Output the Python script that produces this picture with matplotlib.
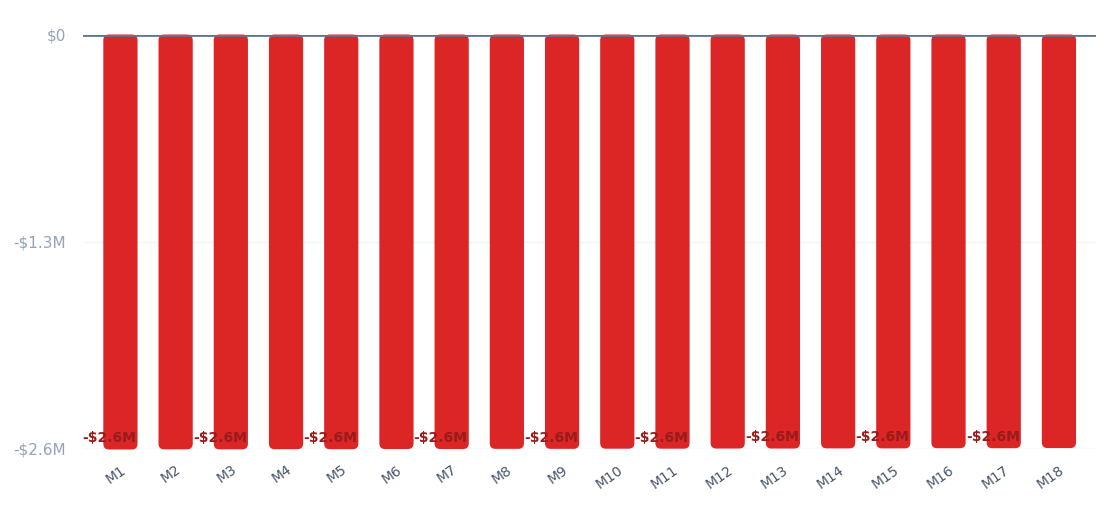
import matplotlib.pyplot as plt
from matplotlib.patches import FancyBboxPatch
from matplotlib.ticker import FuncFormatter

months = ['M%d' % i for i in range(1, 19)]
values = [-2.605, -2.604, -2.604, -2.603, -2.603, -2.602, -2.602, -2.601, -2.601,
          -2.600, -2.600, -2.599, -2.599, -2.598, -2.598, -2.597, -2.597, -2.596]

fig = plt.figure(figsize=(11.2, 5.31), dpi=100)
ax = fig.add_axes([0.074, 0.155, 0.905, 0.78])
x = list(range(len(months)))
bars = ax.bar(x, values, width=0.62, color='#dc2626')

ax.set_xlim(-0.68, 17.68)
ax.set_ylim(-2.6, 0)

# swap bars for rounded ones
for b in bars:
    b.set_visible(False)
    r = FancyBboxPatch((b.get_x(), b.get_y() + b.get_height()), b.get_width(), -b.get_height(),
                       boxstyle='round,pad=0,rounding_size=0.1', mutation_aspect=0.36,
                       fc='#dc2626', ec='none', clip_on=False, zorder=2)
    ax.add_patch(r)

for i, v in enumerate(values):
    if i % 2 == 0:
        ax.text(i - 0.2, v + 0.07, '-$%.1fM' % abs(v), ha='center', va='center',
                color='#991b1b', fontsize=10, fontweight='bold', zorder=3)

ax.axhline(0, color='#64748b', lw=2, zorder=4)
ax.axhline(-1.3, color='#f1f5f9', lw=1, zorder=0)
ax.axhline(-2.6, color='#e2e8f0', lw=1, zorder=0)

ax.set_yticks([0, -1.3, -2.6])
ax.yaxis.set_major_formatter(FuncFormatter(lambda v, p: '$0' if v == 0 else '-$%.1fM' % abs(v)))
ax.set_xticks(x)
ax.set_xticklabels(months, rotation=35, ha='right', rotation_mode='anchor', color='#475569', fontsize=10)
ax.tick_params(axis='y', colors='#94a3b8', labelsize=11, length=0, pad=12)
ax.tick_params(axis='x', length=0, pad=10)
for s in ax.spines.values():
    s.set_visible(False)

fig.savefig('out.png', dpi=100)
